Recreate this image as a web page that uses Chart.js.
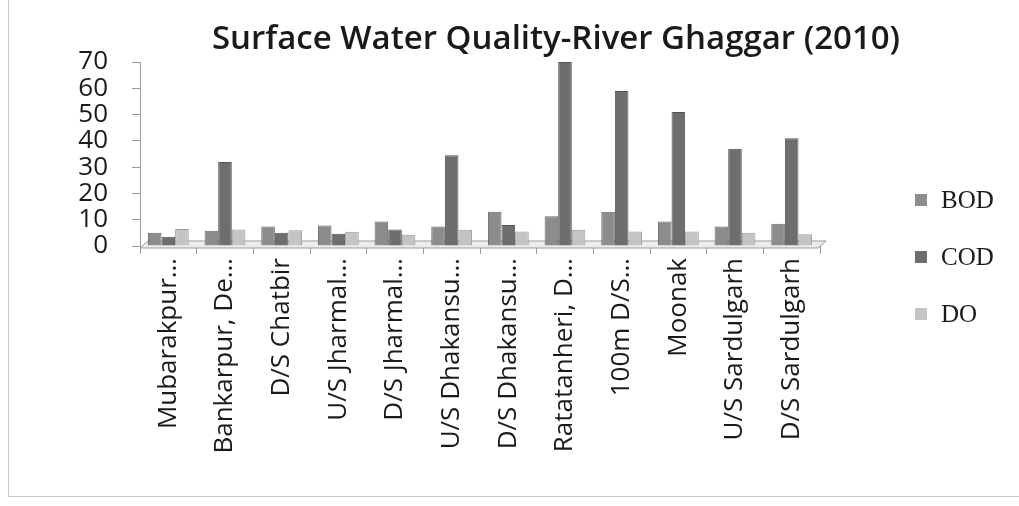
<!DOCTYPE html>
<html>
<head>
<meta charset="utf-8">
<script src="https://cdn.jsdelivr.net/npm/chart.js@4"></script>
<style>
  html, body { margin: 0; padding: 0; background: #fff; }
  #wrap { position: relative; width: 1019px; height: 506px; }
  #frame { position: absolute; left: 8px; top: 0; width: 1011px; height: 497px;
           border-left: 1px solid #c8c8c8; border-bottom: 1px solid #c8c8c8; box-sizing: border-box; }
  canvas { position: absolute; left: 0; top: 0; }
</style>
</head>
<body>
<div id="wrap">
  <div id="frame"></div>
  <canvas id="waterChart" width="1019" height="506"></canvas>
</div>
<script>
const stations = ['Mubarakpur…', 'Bankarpur, De…', 'D/S Chatbir', 'U/S Jharmal…', 'D/S Jharmal…',
  'U/S Dhakansu…', 'D/S Dhakansu…', 'Ratatanheri, D…', '100m D/S…', 'Moonak',
  'U/S Sardulgarh', 'D/S Sardulgarh'];
const bod = [5, 5.8, 7.4, 7.8, 9.3, 7.4, 13, 11.3, 13, 9.3, 7.4, 8.5];
const cod = [3.5, 32, 5, 4.7, 6.3, 34.5, 8, 70, 59, 51, 37, 41];
const dox = [6.5, 6.3, 6, 5.4, 4.3, 6.2, 5.5, 6.2, 5.5, 5.5, 5, 4.5];
const yTicks = [0, 10, 20, 30, 40, 50, 60, 70];

const serif = '"Liberation Serif", "DejaVu Serif", serif';
const sans = '"Open Sans", "Liberation Sans", sans-serif';

// title drawn at a fixed spot, slightly right of centre
const titlePlugin = {
  id: 'titleText',
  afterDraw(chart) {
    const c = chart.ctx;
    c.save();
    c.font = '600 33px ' + sans;
    c.fillStyle = '#1a1a1a';
    c.textAlign = 'center';
    c.textBaseline = 'middle';
    c.fillText('Surface Water Quality-River Ghaggar (2010)', 556, 40);
    c.restore();
  }
};

// legend column to the right of the plot, built from the datasets
const sideLegend = {
  id: 'sideLegend',
  afterDraw(chart) {
    const c = chart.ctx;
    c.save();
    c.font = '25px ' + serif;
    c.textBaseline = 'middle';
    chart.data.datasets.forEach((ds, i) => {
      const y = 200 + i * 57;
      c.fillStyle = ds.backgroundColor;
      c.fillRect(915, y - 6, 12, 12);
      c.fillStyle = '#1a1a1a';
      c.fillText(ds.label, 941, y + 1);
    });
    c.restore();
  }
};

// thin 3D-style floor under the bars
const floorPlugin = {
  id: 'floor',
  beforeDatasetsDraw(chart) {
    const a = chart.chartArea;
    const c = chart.ctx;
    const y = chart.scales.y.getPixelForValue(0);
    c.save();
    c.fillStyle = '#ececec';
    c.strokeStyle = '#9a9a9a';
    c.lineWidth = 1;
    c.beginPath();
    c.moveTo(a.left, y + 2);
    c.lineTo(a.left + 8, y - 5);
    c.lineTo(a.right + 6, y - 5);
    c.lineTo(a.right - 2, y + 2);
    c.closePath();
    c.fill();
    c.stroke();
    c.restore();
  }
};

new Chart(document.getElementById('waterChart'), {
  type: 'bar',
  data: {
    labels: stations,
    datasets: [
      { label: 'BOD', data: bod, backgroundColor: '#8c8c8c', borderColor: '#6a6a6a', borderWidth: 1 },
      { label: 'COD', data: cod, backgroundColor: '#6e6e6e', borderColor: '#555555', borderWidth: 1 },
      { label: 'DO', data: dox, backgroundColor: '#c4c4c4', borderColor: '#9c9c9c', borderWidth: 1 }
    ]
  },
  options: {
    responsive: false,
    animation: false,
    layout: { padding: { top: 62, bottom: 6, left: 0, right: 199 } },
    datasets: { bar: { categoryPercentage: 0.72, barPercentage: 1 } },
    plugins: {
      title: { display: false },
      tooltip: { enabled: false },
      legend: { display: false }
    },
    scales: {
      x: {
        grid: { drawOnChartArea: false, drawTicks: true, tickLength: 8, color: '#9a9a9a', offset: true },
        border: { color: '#9a9a9a' },
        ticks: {
          minRotation: 90, maxRotation: 90, autoSkip: false,
          font: { family: sans, size: 26 }, color: '#1a1a1a', padding: 4
        },
        afterFit(scale) { scale.height = 254; }
      },
      y: {
        min: 0, max: 70,
        afterBuildTicks(scale) { scale.ticks = yTicks.map(v => ({ value: v })); },
        grid: { drawOnChartArea: false, drawTicks: true, tickLength: 8, color: '#9a9a9a' },
        border: { color: '#9a9a9a' },
        ticks: { font: { family: sans, size: 26 }, color: '#1a1a1a', padding: 24, autoSkip: false },
        afterFit(scale) { scale.width = 140; }
      }
    }
  },
  plugins: [floorPlugin, titlePlugin, sideLegend]
});
</script>
</body>
</html>
